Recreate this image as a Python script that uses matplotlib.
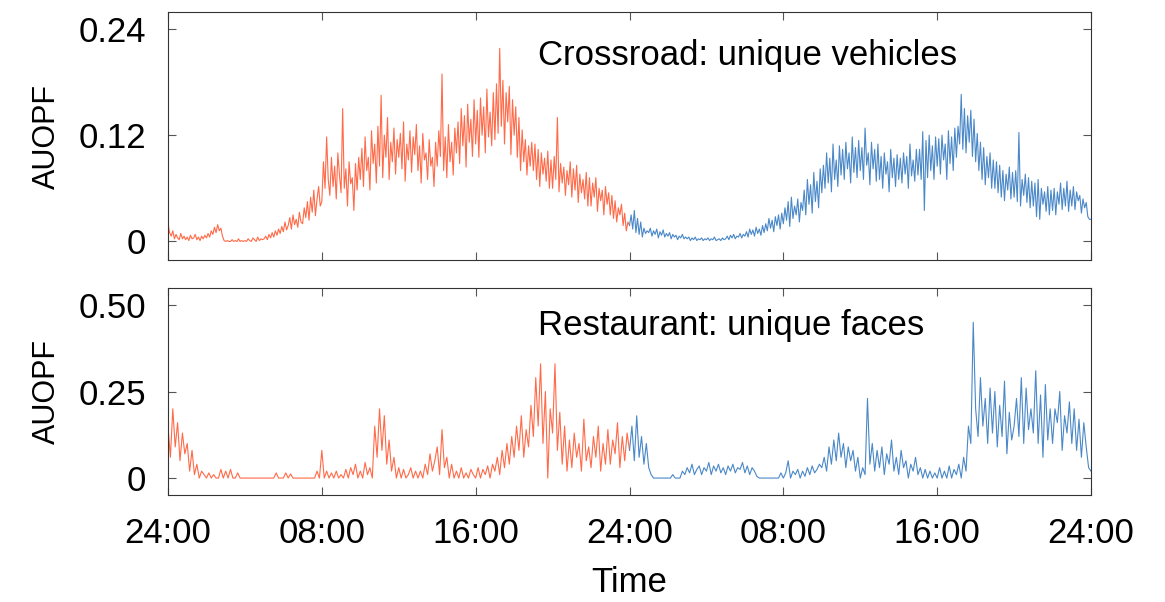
import numpy as np
import matplotlib
matplotlib.use("Agg")
import matplotlib.pyplot as plt

plt.rcParams['font.family'] = ['Liberation Sans', 'DejaVu Sans']

# Crossroad AUOPF in thousandths, 12 samples per hour (one row = one hour)
crossroad_day1 = [
    20, 10, 6, 12, 3, 8, 4, 2, 9, 3, 6, 2,
    5, 1, 7, 3, 4, 8, 2, 5, 1, 6, 3, 7,
    4, 9, 5, 12, 8, 16, 10, 19, 12, 15, 6, 1,
    0, 1, 0, 0, 2, 0, 1, 0, 3, 0, 1, 0,
    1, 0, 3, 1, 0, 4, 2, 0, 5, 1, 3, 2,
    3, 6, 2, 8, 4, 10, 5, 12, 7, 14, 9, 17,
    11, 22, 13, 18, 27, 14, 30, 19, 25, 16, 33, 22,
    20, 38, 27, 45, 24, 50, 33, 58, 29, 48, 62, 40,
    45, 90, 60, 118, 70, 52, 95, 62, 85, 48, 100, 75,
    55, 150, 60, 82, 40, 90, 65, 72, 35, 88, 58, 95,
    70, 105, 62, 118, 80, 95, 58, 125, 88, 110, 66, 130,
    85, 165, 72, 120, 95, 140, 70, 112, 90, 128, 76, 115,
    95, 122, 82, 135, 68, 110, 92, 125, 78, 118, 98, 132,
    80, 108, 66, 122, 92, 100, 70, 115, 85, 95, 62, 112,
    85, 125, 96, 189, 80, 118, 72, 132, 90, 112, 75, 128,
    100, 135, 88, 150, 108, 142, 84, 155, 112, 138, 96, 160,
    110, 148, 95, 162, 120, 152, 100, 172, 118, 146, 108, 168,
    115, 178, 122, 218, 130, 182, 110, 168, 135, 175, 98, 160,
    120, 152, 95, 140, 80, 126, 90, 115, 75, 108, 85, 112,
    80, 110, 70, 104, 62, 100, 76, 94, 68, 102, 60, 92,
    60, 96, 70, 140, 56, 88, 66, 84, 52, 80, 64, 90,
    50, 82, 58, 86, 44, 76, 55, 70, 48, 78, 40, 72,
    40, 66, 50, 72, 34, 60, 46, 58, 30, 62, 42, 55,
    30, 52, 26, 46, 22, 38, 30, 42, 18, 32, 12, 22,
]
crossroad_day2 = [
    18, 30, 14, 35, 10, 26, 8, 22, 5, 15, 9, 12,
    10, 15, 6, 12, 8, 14, 4, 11, 7, 13, 5, 9,
    6, 10, 3, 8, 5, 7, 2, 6, 4, 8, 3, 5,
    3, 5, 1, 4, 2, 5, 1, 3, 2, 4, 1, 3,
    2, 4, 1, 3, 2, 5, 1, 2, 3, 1, 4, 2,
    3, 6, 2, 7, 4, 8, 3, 6, 5, 9, 4, 8,
    6, 11, 5, 14, 8, 13, 6, 16, 9, 14, 7, 18,
    10, 20, 12, 26, 15, 24, 11, 28, 18, 30, 14, 32,
    20, 38, 24, 45, 17, 50, 26, 40, 30, 48, 22, 44,
    35, 58, 30, 70, 42, 64, 32, 78, 45, 68, 38, 82,
    55, 86, 60, 100, 66, 94, 56, 110, 70, 92, 62, 108,
    75, 104, 70, 112, 82, 100, 66, 118, 78, 106, 72, 114,
    80, 106, 70, 128, 86, 100, 64, 112, 82, 104, 68, 110,
    70, 96, 60, 100, 76, 90, 56, 104, 72, 94, 62, 98,
    70, 94, 66, 100, 76, 96, 60, 110, 74, 92, 68, 104,
    75, 104, 70, 124, 35, 114, 72, 120, 80, 108, 70, 118,
    85, 116, 76, 120, 92, 110, 70, 125, 88, 118, 80, 128,
    95, 130, 110, 166, 104, 150, 100, 142, 112, 148, 96, 138,
    90, 122, 80, 112, 70, 106, 64, 96, 72, 100, 60, 92,
    60, 90, 55, 86, 50, 80, 46, 76, 58, 84, 48, 78,
    50, 80, 45, 123, 40, 70, 52, 76, 44, 72, 38, 68,
    40, 66, 28, 70, 25, 60, 42, 56, 34, 62, 30, 58,
    35, 60, 30, 56, 42, 66, 36, 60, 40, 68, 34, 58,
    40, 62, 36, 56, 46, 52, 32, 48, 38, 44, 28, 25,
    25,
]

# Restaurant AUOPF in thousandths, 8 samples per hour (one row = one hour)
restaurant_day1 = [
    150, 60, 200, 90, 160, 50, 130, 70,
    100, 20, 80, 10, 40, 0, 20, 10,
    0, 15, 0, 10, 0, 0, 25, 0,
    20, 0, 25, 0, 0, 15, 0, 0,
    0, 0, 0, 0, 0, 0, 0, 0,
    0, 0, 0, 0, 0, 15, 0, 0,
    0, 15, 0, 12, 0, 0, 0, 0,
    0, 0, 0, 0, 0, 0, 20, 0,
    80, 0, 20, 0, 15, 0, 20, 0,
    10, 0, 25, 0, 30, 10, 40, 0,
    20, 0, 45, 10, 30, 0, 150, 60,
    200, 80, 180, 40, 110, 20, 60, 0,
    30, 0, 25, 0, 10, 30, 0, 20,
    0, 20, 0, 40, 10, 70, 20, 50,
    90, 10, 140, 30, 60, 0, 40, 0,
    20, 0, 30, 0, 15, 0, 25, 10,
    0, 30, 0, 25, 10, 35, 0, 40,
    20, 60, 10, 80, 30, 100, 40, 120,
    60, 150, 80, 180, 60, 140, 90, 210,
    120, 290, 150, 330, 100, 250, 0, 200,
    130, 330, 80, 190, 40, 150, 20, 110,
    30, 130, 60, 100, 20, 170, 50, 90,
    30, 120, 60, 150, 20, 100, 40, 140,
    40, 110, 70, 160, 30, 120, 50, 130,
]
restaurant_day2 = [
    80, 150, 50, 180, 60, 120, 40, 100,
    30, 10, 0, 0, 0, 0, 0, 0,
    0, 0, 10, 0, 0, 0, 20, 10,
    30, 15, 40, 10, 25, 35, 10, 30,
    20, 45, 10, 35, 20, 40, 15, 30,
    10, 35, 20, 40, 15, 30, 25, 45,
    15, 35, 10, 30, 20, 5, 0, 0,
    0, 0, 0, 0, 0, 0, 0, 15,
    0, 15, 50, 0, 20, 10, 25, 0,
    20, 5, 30, 10, 35, 15, 25, 40,
    30, 60, 20, 90, 40, 110, 50, 130,
    60, 100, 30, 90, 50, 80, 20, 60,
    0, 30, 10, 230, 40, 100, 20, 80,
    30, 90, 10, 70, 40, 110, 20, 60,
    10, 80, 30, 50, 0, 40, 20, 60,
    10, 30, 0, 25, 0, 20, 0, 15,
    0, 30, 0, 20, 0, 35, 0, 25,
    10, 40, 0, 60, 20, 150, 100, 450,
    200, 120, 290, 150, 230, 100, 260, 130,
    250, 90, 210, 120, 280, 70, 190, 110,
    150, 230, 120, 290, 100, 260, 140, 200,
    130, 310, 100, 240, 60, 270, 110, 200,
    100, 200, 160, 250, 80, 180, 130, 220,
    100, 200, 80, 170, 60, 160, 90, 30,
    20,
]

tick_hours = [0, 8, 16, 24, 32, 40, 48]
tick_labels = ['24:00', '08:00', '16:00', '24:00', '08:00', '16:00', '24:00']

red = '#ff6a48'
blue = '#4a88c8'
fs = 25

fig = plt.figure(figsize=(11.65, 6.02), dpi=100)
ax1 = fig.add_axes([0.1442, 0.568, 0.7923, 0.412])
ax2 = fig.add_axes([0.1442, 0.1777, 0.7923, 0.3439])

panels = [
    (ax1, crossroad_day1, crossroad_day2, 12, 'Crossroad: unique vehicles', 0.21,
     (-0.021, 0.259), [0, 0.12, 0.24], ['0', '0.12', '0.24']),
    (ax2, restaurant_day1, restaurant_day2, 8, 'Restaurant: unique faces', 0.44,
     (-0.049, 0.549), [0, 0.25, 0.5], ['0', '0.25', '0.50']),
]

for ax, d1, d2, per_hour, title, ty, ylim, yt, ytl in panels:
    v1 = np.array(d1 + d2[:1]) / 1000
    v2 = np.array(d2) / 1000
    t1 = np.arange(len(v1)) / per_hour
    t2 = 24 + np.arange(len(v2)) / per_hour
    ax.plot(t1, v1, color=red, lw=0.8)
    ax.plot(t2, v2, color=blue, lw=0.8)
    ax.set_xlim(0, 48)
    ax.set_ylim(*ylim)
    ax.set_yticks(yt)
    ax.set_yticklabels(ytl)
    ax.set_xticks(tick_hours)
    ax.tick_params(direction='in', top=True, right=True, length=6,
                   labelsize=fs, colors='#555555', labelcolor='black', pad=16)
    ax.set_ylabel('AUOPF', fontsize=22, labelpad=12)
    ax.text(19.25, ty, title, fontsize=fs, va='center')
    for s in ax.spines.values():
        s.set_color('#333333')

ax1.set_xticklabels([])
ax2.set_xticklabels(tick_labels)
ax2.set_xlabel('Time', fontsize=fs, labelpad=11)

fig.savefig('out.png', dpi=100)
